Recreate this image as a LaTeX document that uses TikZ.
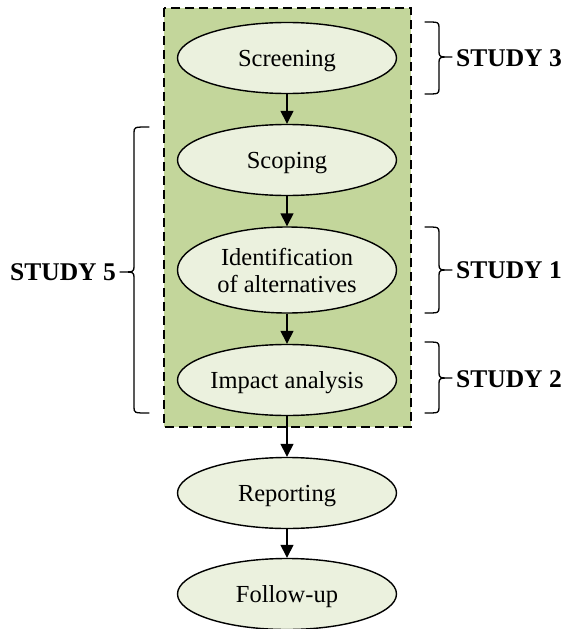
\documentclass[tikz,border=0pt]{standalone}
\usepackage{fontspec}
\setmainfont{Liberation Serif}
\usetikzlibrary{arrows.meta,shapes.geometric}
\definecolor{stagegreen}{HTML}{C3D69B}
\definecolor{ellfill}{HTML}{EBF1DE}
\tikzset{
  stage/.style={ellipse, draw=black, line width=1.4pt, fill=ellfill,
    minimum width=219pt, minimum height=71pt, inner sep=0pt, align=center,
    font=\fontsize{24.5}{27}\selectfont},
  oneline/.style={text height=17pt, text depth=0pt},
  flow/.style={line width=1.4pt, -{Triangle[length=13pt,width=13pt]}},
  bracepath/.style={line width=1.3pt, line join=round, line cap=round},
  studylabel/.style={inner sep=0pt, font=\fontsize{25.5}{28}\selectfont\bfseries}
}
\begin{document}
\begin{tikzpicture}[x=1pt,y=-1pt]
\useasboundingbox (0,0) rectangle (566,629);
% shaded group of the first four stages
\draw[fill=stagegreen, line width=2.6pt, dash pattern=on 9pt off 5pt] (164,8) rectangle (411,427);
% stages
\node[stage, oneline] (screen) at (287,58) {Screening};
\node[stage, oneline] (scope) at (287,160) {Scoping};
\node[stage, minimum height=86pt] (ident) at (287,270) {Identification\\of alternatives};
\node[stage, oneline] (impact) at (287,380) {Impact analysis};
\node[stage, oneline] (report) at (287,493) {Reporting};
\node[stage, oneline] (follow) at (287,594) {Follow-up};
% connectors
\draw[flow] (screen) -- (scope);
\draw[flow] (scope) -- (ident);
\draw[flow] (ident) -- (impact);
\draw[flow] (impact) -- (report);
\draw[flow] (report) -- (follow);
% right braces
\foreach \ya/\yb/\yc in {22/94/57, 227/313/270, 342/413/378}{
  \draw[bracepath] (425,\ya) .. controls (439,\ya) .. (439,\ya+6) -- (439,\yc-6)
    .. controls (439,\yc) .. (452,\yc) .. controls (439,\yc) .. (439,\yc+6)
    -- (439,\yb-6) .. controls (439,\yb) .. (425,\yb);
}
% left brace
\draw[bracepath] (149,127) .. controls (134,127) .. (134,133) -- (134,266)
  .. controls (134,272) .. (120,272) .. controls (134,272) .. (134,278)
  -- (134,407) .. controls (134,413) .. (149,413);
% study labels
\node[studylabel, anchor=west] (s3) at (456,58) {STUDY 3};
\node[studylabel, anchor=west] (s1) at (456,270) {STUDY 1};
\node[studylabel, anchor=west] (s2) at (456,379) {STUDY 2};
\node[studylabel, anchor=east] (s5) at (116,272) {STUDY 5};
\end{tikzpicture}
\end{document}
